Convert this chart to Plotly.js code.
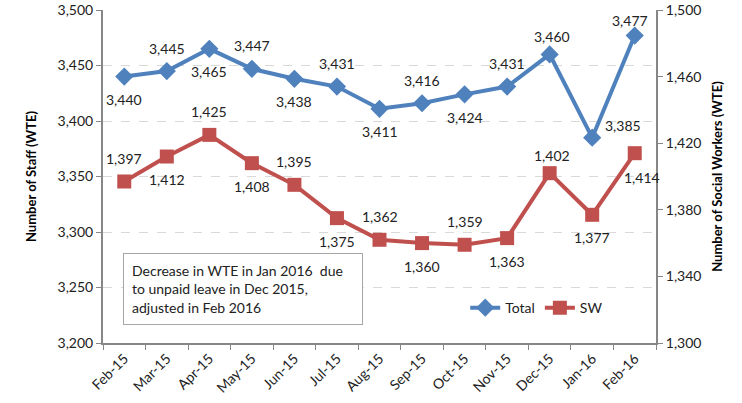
<!DOCTYPE html>
<html>
<head>
<meta charset="utf-8">
<script src="https://cdn.plot.ly/plotly-3.0.1.min.js"></script>
<style>html,body{margin:0;padding:0;background:#fff;}#chart{width:742px;height:403px;}</style>
</head>
<body>
<div id="chart"></div>
<script>
const months = ["Feb-15","Mar-15","Apr-15","May-15","Jun-15","Jul-15","Aug-15","Sep-15","Oct-15","Nov-15","Dec-15","Jan-16","Feb-16"];
const totalValues = [3440,3445,3465,3447,3438,3431,3411,3416,3424,3431,3460,3385,3477];
const swValues = [1397,1412,1425,1408,1395,1375,1362,1360,1359,1363,1402,1377,1414];
const totalLabelSide = ["below","above","below","above","below","above","below","above","below","above","aboveNear","aboveRight","aboveLast"];
const swLabelSide = ["above","below","above","below","above","below","above","below","above","below","aboveNear","below","belowRight"];
const noteText = "Decrease in WTE in Jan 2016  due<br>to unpaid leave in Dec 2015,<br>adjusted in Feb 2016";

const fmt = v => v.toLocaleString("en-US");
const FONT = "Lato, 'Open Sans', sans-serif";
const SHIFTS = {
  above: [0, 23], below: [0, -23], aboveNear: [2, 18], aboveLast: [-5, 15],
  aboveRight: [31, 12], belowRight: [7, -24]
};

function labelAnnotations(values, sides, yref) {
  return values.map((v, i) => ({
    x: months[i], y: v, xref: "x", yref: yref,
    text: fmt(v), showarrow: false,
    xshift: SHIFTS[sides[i]][0], yshift: SHIFTS[sides[i]][1],
    font: {family: FONT, size: 14, color: "#222"}
  }));
}

const traces = [
  {
    x: months, y: totalValues, name: "Total", yaxis: "y",
    mode: "lines+markers",
    line: {color: "#4F81BD", width: 4},
    marker: {symbol: "diamond", size: 14, color: "#4F81BD"},
    cliponaxis: false
  },
  {
    x: months, y: swValues, name: "SW", yaxis: "y2",
    mode: "lines+markers",
    line: {color: "#C0504D", width: 4},
    marker: {symbol: "square", size: 14, color: "#C0504D"},
    cliponaxis: false
  }
];

const layout = {
  width: 742, height: 403,
  margin: {l: 103, r: 86, t: 10, b: 60},
  paper_bgcolor: "#fff", plot_bgcolor: "#fff",
  font: {family: FONT, size: 14, color: "#222"},
  showlegend: true,
  legend: {orientation: "h", x: 0.655, y: 0.105, xanchor: "left", yanchor: "middle",
           font: {family: FONT, size: 14, color: "#222"}, bgcolor: "rgba(0,0,0,0)"},
  xaxis: {
    type: "category", range: [-0.5, 12.5], tickangle: -45,
    tickson: "boundaries", ticks: "outside", ticklen: 5, tickcolor: "#868686",
    showline: true, linecolor: "#868686", linewidth: 2, showgrid: false,
    tickfont: {family: FONT, size: 14, color: "#222"}
  },
  yaxis: {
    range: [3200, 3500], tick0: 3200, dtick: 50, tickformat: ",",
    ticks: "outside", ticklen: 5, tickcolor: "#868686",
    showline: true, linecolor: "#868686", linewidth: 2,
    showgrid: true, gridcolor: "#d9d9d9", griddash: "dash", gridwidth: 1,
    zeroline: false,
    tickfont: {family: FONT, size: 14, color: "#222"},
    title: {text: "Number of Staff (WTE)", font: {family: FONT, size: 13, color: "#000", weight: "bold"}, standoff: 18}
  },
  yaxis2: {
    range: [1300, 1500], tick0: 1300, dtick: 40, tickformat: ",", overlaying: "y", side: "right",
    ticks: "outside", ticklen: 5, tickcolor: "#868686",
    showline: true, linecolor: "#868686", linewidth: 2, showgrid: false, zeroline: false,
    tickfont: {family: FONT, size: 14, color: "#222"},
    title: {text: "Number of Social Workers (WTE)", font: {family: FONT, size: 13, color: "#000", weight: "bold"}, standoff: 12}
  },
  annotations: [
    ...labelAnnotations(totalValues, totalLabelSide, "y"),
    ...labelAnnotations(swValues, swLabelSide, "y2"),
    {
      xref: "paper", yref: "paper", x: 0.036, y: 0.27, xanchor: "left", yanchor: "top",
      text: noteText, showarrow: false, align: "left",
      bordercolor: "#a6a6a6", borderwidth: 1, borderpad: 8, bgcolor: "#fff",
      width: 222, height: 54,
      font: {family: FONT, size: 14, color: "#222"}
    }
  ]
};

Plotly.newPlot("chart", traces, layout, {displayModeBar: false, staticPlot: true});
</script>
</body>
</html>
